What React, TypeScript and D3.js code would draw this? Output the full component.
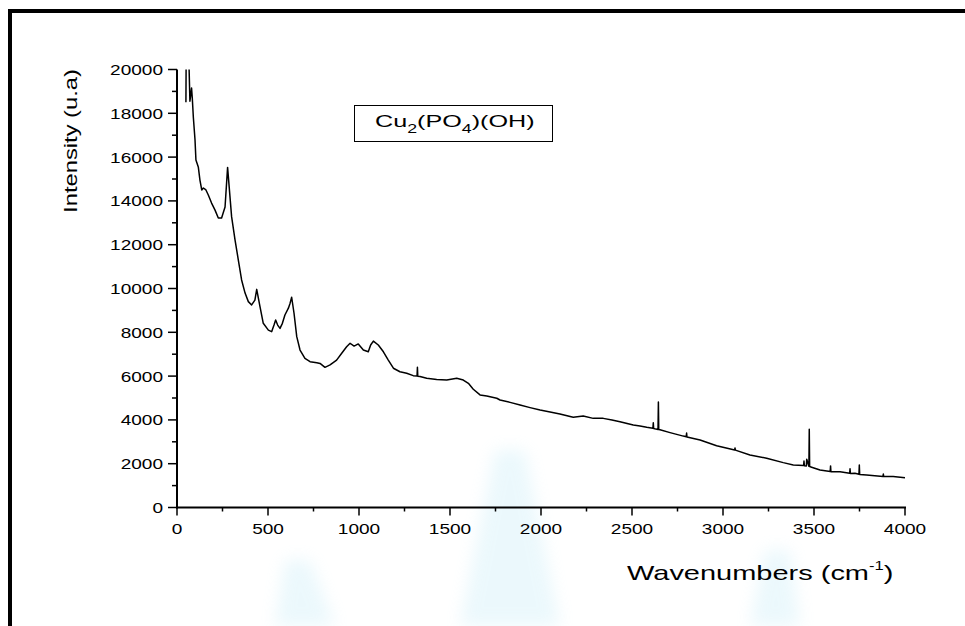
import React from "react";
import * as d3 from "d3";

// Raman spectrum
const wavenumbers = [
  49, 51, 62, 71, 80, 84, 90, 99, 104, 117, 126, 136, 145, 159, 172, 190, 209, 227, 245, 264,
  278, 300, 319, 337, 355, 374, 392, 410, 428, 438, 456, 474, 502, 520, 533, 542, 553, 566, 579,
  593, 612, 621, 630, 643, 658, 676, 703, 731, 768, 786, 813, 841, 877, 905, 932, 951, 973, 996,
  1024, 1051, 1064, 1079, 1106, 1134, 1161, 1189, 1225, 1262, 1298, 1319, 1321, 1323, 1335, 1372,
  1427, 1482, 1537, 1573, 1601, 1628, 1665, 1702, 1757, 1775, 1830, 1885, 1940, 1995, 2050, 2104,
  2177, 2232, 2287, 2342, 2390, 2434, 2507, 2544, 2581, 2615, 2617, 2619, 2632, 2643, 2645, 2647,
  2654, 2709, 2782, 2798, 2800, 2802, 2874, 2965, 3064, 3066, 3068, 3148, 3240, 3331, 3386, 3443,
  3445, 3447, 3458, 3460, 3472, 3474, 3476, 3487, 3533, 3589, 3591, 3593, 3643, 3696, 3698, 3700,
  3725, 3747, 3749, 3751, 3789, 3879, 3881, 3883, 3935, 4000,
];
const intensities = [
  18500, 21500, 21500, 18550, 19150, 18700, 17800, 16780, 15870, 15550, 14950, 14500, 14590, 14500,
  14270, 13900, 13580, 13220, 13220, 13720, 15530, 13280, 12210, 11300, 10390, 9790, 9400, 9250,
  9470, 9960, 9170, 8410, 8100, 8030, 8330, 8560, 8330, 8180, 8410, 8790, 9100, 9320, 9600, 8870,
  7800, 7190, 6810, 6660, 6610, 6580, 6400, 6510, 6730, 7040, 7340, 7500, 7370, 7470, 7190, 7110,
  7420, 7600, 7420, 7110, 6730, 6360, 6200, 6130, 6020, 6000, 6400, 5990, 5980, 5900, 5850, 5820,
  5900, 5820, 5670, 5400, 5140, 5090, 4990, 4910, 4800, 4680, 4560, 4450, 4360, 4270, 4120, 4180,
  4070, 4070, 4000, 3920, 3770, 3720, 3660, 3620, 3870, 3610, 3580, 3560, 4820, 3560, 3550, 3420,
  3260, 3230, 3400, 3220, 3080, 2820, 2630, 2720, 2620, 2400, 2250, 2050, 1940, 1920, 2120, 1910,
  1900, 2200, 1880, 3570, 1870, 1840, 1710, 1640, 1900, 1630, 1630, 1560, 1770, 1550, 1560, 1520,
  1940, 1510, 1480, 1420, 1530, 1410, 1410, 1360,
];

const xTicks = [0, 500, 1000, 1500, 2000, 2500, 3000, 3500, 4000];
const xMinor = [250, 750, 1250, 1750, 2250, 2750, 3250, 3750];
const yTicks = [0, 2000, 4000, 6000, 8000, 10000, 12000, 14000, 16000, 18000, 20000];
const yMinor = [1000, 3000, 5000, 7000, 9000, 11000, 13000, 15000, 17000, 19000];

const W = 965;
const H = 626;
const FONT = "Arial, 'Liberation Sans', sans-serif";

export default function App() {
  const x = d3.scaleLinear().domain([0, 4000]).range([177, 905]);
  const y = d3.scaleLinear().domain([0, 20000]).range([507.5, 69.5]);

  const points = wavenumbers.map((w, i) => [w, intensities[i]] as [number, number]);
  const line = d3
    .line<[number, number]>()
    .x((d) => x(d[0]))
    .y((d) => y(d[1]));

  const x0 = x(0);
  const yBase = y(0);

  return (
    <svg
      width={W}
      height={H}
      style={{ position: "absolute", left: 0, top: 0, background: "#fff" }}
      fontFamily={FONT}
    >
      <defs>
        <clipPath id="plot">
          <rect x={x0} y={y(20000)} width={x(4000) - x0 + 2} height={yBase - y(20000)} />
        </clipPath>
        <filter id="soft" x="-50%" y="-50%" width="200%" height="200%">
          <feGaussianBlur stdDeviation={8} />
        </filter>
      </defs>

      {/* faint background watermark */}
      <g filter="url(#soft)" opacity={0.2}>
        <path d="M495,450 L525,450 L560,626 L460,626 Z" fill="#9fdff2" />
        <path d="M285,560 L310,560 L335,626 L275,626 Z" fill="#9fdff2" />
        <path d="M765,550 L790,550 L800,626 L750,626 Z" fill="#9fdff2" />
      </g>

      {/* outer frame (top and left only) */}
      <path d={`M10,${H} L10,11 L${W},11`} fill="none" stroke="#000" strokeWidth={4} />

      {/* spectrum */}
      <path
        d={line(points) || ""}
        fill="none"
        stroke="#000"
        strokeWidth={1.5}
        strokeLinejoin="round"
        clipPath="url(#plot)"
      />

      {/* y axis */}
      <line x1={x0} x2={x0} y1={y(20000)} y2={yBase + 1} stroke="#000" strokeWidth={2} />
      {yTicks.map((t) => (
        <g key={"yt" + t}>
          <line x1={x0 - 9} x2={x0} y1={y(t)} y2={y(t)} stroke="#000" strokeWidth={1.5} />
          <text
            transform={`translate(${x0 - 14},${y(t) + 5.5}) scale(1.27,1)`}
            textAnchor="end"
            fontSize={15}
          >
            {t}
          </text>
        </g>
      ))}
      {yMinor.map((t) => (
        <line key={"ym" + t} x1={x0 - 5} x2={x0} y1={y(t)} y2={y(t)} stroke="#000" strokeWidth={1.5} />
      ))}

      {/* x axis */}
      <line x1={x0 - 1} x2={x(4000) + 1} y1={yBase} y2={yBase} stroke="#000" strokeWidth={2} />
      {xTicks.map((t) => (
        <g key={"xt" + t}>
          <line x1={x(t)} x2={x(t)} y1={yBase} y2={yBase + 8} stroke="#000" strokeWidth={1.5} />
          <text
            transform={`translate(${x(t)},${yBase + 26}) scale(1.27,1)`}
            textAnchor="middle"
            fontSize={15}
          >
            {t}
          </text>
        </g>
      ))}
      {xMinor.map((t) => (
        <line key={"xm" + t} x1={x(t)} x2={x(t)} y1={yBase} y2={yBase + 4} stroke="#000" strokeWidth={1.5} />
      ))}

      {/* axis titles */}
      <text
        transform={`translate(77,141) rotate(-90) scale(1.25,1)`}
        textAnchor="middle"
        fontSize={19}
      >
        Intensity (u.a)
      </text>
      <text transform={`translate(627,580) scale(1.38,1)`} fontSize={21}>
        Wavenumbers (cm
        <tspan fontSize={12} dy={-10}>-1</tspan>
        <tspan dy={10}>)</tspan>
      </text>

      {/* compound label */}
      <rect x={354.5} y={105.5} width={198} height={36} fill="#fff" stroke="#000" strokeWidth={1} />
      <text transform={`translate(375,127) scale(1.48,1)`} fontSize={17}>
        Cu
        <tspan fontSize={12} dy={6}>2</tspan>
        <tspan dy={-6}>(PO</tspan>
        <tspan fontSize={12} dy={6}>4</tspan>
        <tspan dy={-6}>)(OH)</tspan>
      </text>
    </svg>
  );
}
